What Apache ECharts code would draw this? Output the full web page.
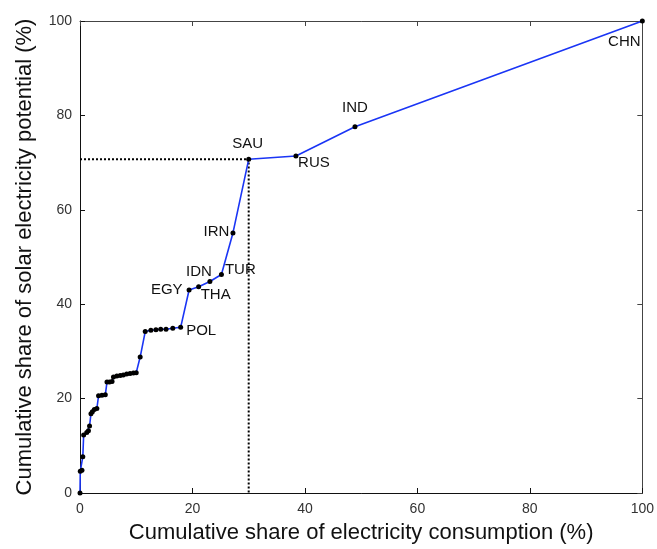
<!DOCTYPE html>
<html>
<head>
<meta charset="utf-8">
<script src="https://cdn.jsdelivr.net/npm/echarts@6/dist/echarts.min.js"></script>
<style>html,body{margin:0;padding:0;background:#fff;}#chart{width:657px;height:549px;}</style>
</head>
<body>
<div id="chart"></div>
<script>
// Cumulative share of electricity consumption (%)
const consumption = [0, 0.05, 0.35, 0.5, 0.65, 1.2, 1.5, 1.7, 1.95, 2.2, 2.55, 3.0, 3.3, 3.9, 4.5, 4.8, 5.25, 5.7, 5.95, 6.55, 7.15, 7.7, 8.3, 8.9, 9.5, 10.0, 10.7, 11.6, 12.6, 13.5, 14.35, 15.3, 16.5, 17.9, 19.4, 21.1, 23.1, 25.15, 27.2, 30.0, 38.4, 48.9, 100];
// Cumulative share of solar electricity potential (%)
const potential = [0, 4.6, 4.8, 7.7, 12.3, 12.8, 13.2, 14.2, 16.8, 17.2, 17.7, 17.9, 20.6, 20.7, 20.8, 23.5, 23.5, 23.6, 24.6, 24.8, 24.9, 25.0, 25.2, 25.3, 25.4, 25.5, 28.8, 34.2, 34.5, 34.6, 34.7, 34.7, 34.9, 35.1, 43.0, 43.7, 44.8, 46.3, 55.1, 70.7, 71.4, 77.6, 100];
// Country codes (blank = unlabelled)
const countries = ['', '', '', '', '', '', '', '', '', '', '', '', '', '', '', '', '', '', '', '', '', '', '', '', '', '', '', '', '', '', '', '', '', 'POL', 'EGY', 'THA', 'IDN', 'TUR', 'IRN', 'SAU', 'RUS', 'IND', 'CHN'];
// Reference point (SAU)
const refX = [30.0];
const refY = [70.7];
const xTicks = [0, 20, 40, 60, 80, 100];
const yTicks = [0, 20, 40, 60, 80, 100];

const labelStyle = {
  POL: {position: 'right', offset: [-2, 4]},
  EGY: {position: 'left', offset: [1, 0]},
  THA: {position: 'bottom', offset: [17, -7]},
  IDN: {position: 'top', offset: [-11, 5]},
  TUR: {position: 'right', offset: [-4, -5]},
  IRN: {position: 'left', offset: [4, -1]},
  SAU: {position: 'top', offset: [-1, 0]},
  RUS: {position: 'bottom', offset: [18, -8]},
  IND: {position: 'top', offset: [0, -4]},
  CHN: {position: 'bottom', offset: [-18, 6]}
};

const FONT = 'Liberation Sans, Arial, sans-serif';
const data = consumption.map((x, i) => {
  const name = countries[i];
  const item = {value: [x, potential[i]], name: name};
  if (name) {
    item.label = Object.assign({show: true, formatter: name, fontSize: 15, color: '#111', fontFamily: FONT}, labelStyle[name]);
  }
  return item;
});

const chart = echarts.init(document.getElementById('chart'), null, {renderer: 'canvas'});
const sideAxis = (pos) => ({
  type: 'value', min: 0, max: 100, interval: 20, position: pos,
  axisLine: {show: true, onZero: false, lineStyle: {color: '#444', width: 1}},
  axisTick: {show: true, inside: true, length: 5, lineStyle: {color: '#444'}},
  axisLabel: {show: false}, splitLine: {show: false}
});
chart.setOption({
  animation: false,
  backgroundColor: '#fff',
  grid: {left: 80, right: 13, top: 21, bottom: 53},
  xAxis: [{
    type: 'value', min: 0, max: 100, interval: 20, position: 'bottom',
    name: 'Cumulative share of electricity consumption (%)',
    nameLocation: 'middle', nameGap: 29,
    nameTextStyle: {fontSize: 22, color: '#111', fontFamily: FONT},
    axisLine: {show: true, onZero: false, lineStyle: {color: '#111', width: 1}},
    axisTick: {show: true, inside: true, length: 5, lineStyle: {color: '#111'}},
    axisLabel: {fontSize: 14, color: '#333', margin: 9, fontFamily: FONT},
    splitLine: {show: false}
  }, sideAxis('top')],
  yAxis: [{
    type: 'value', min: 0, max: 100, interval: 20, position: 'left',
    name: 'Cumulative share of solar electricity potential (%)',
    nameLocation: 'middle', nameGap: 44,
    nameTextStyle: {fontSize: 22, color: '#111', fontFamily: FONT},
    axisLine: {show: true, onZero: false, lineStyle: {color: '#111', width: 1}},
    axisTick: {show: true, inside: true, length: 5, lineStyle: {color: '#111'}},
    axisLabel: {fontSize: 14, color: '#333', margin: 8, fontFamily: FONT},
    splitLine: {show: false}
  }, sideAxis('right')],
  series: [{
    type: 'line',
    data: [[0, refY[0]], [refX[0], refY[0]], [refX[0], 0]],
    symbol: 'none',
    lineStyle: {color: '#000', width: 2, type: [2, 2]},
    silent: true, z: 1
  }, {
    type: 'line',
    data: data,
    symbol: 'circle', symbolSize: 5,
    itemStyle: {color: '#000'},
    lineStyle: {color: '#1a35f5', width: 1.6},
    z: 3
  }]
});
</script>
</body>
</html>
